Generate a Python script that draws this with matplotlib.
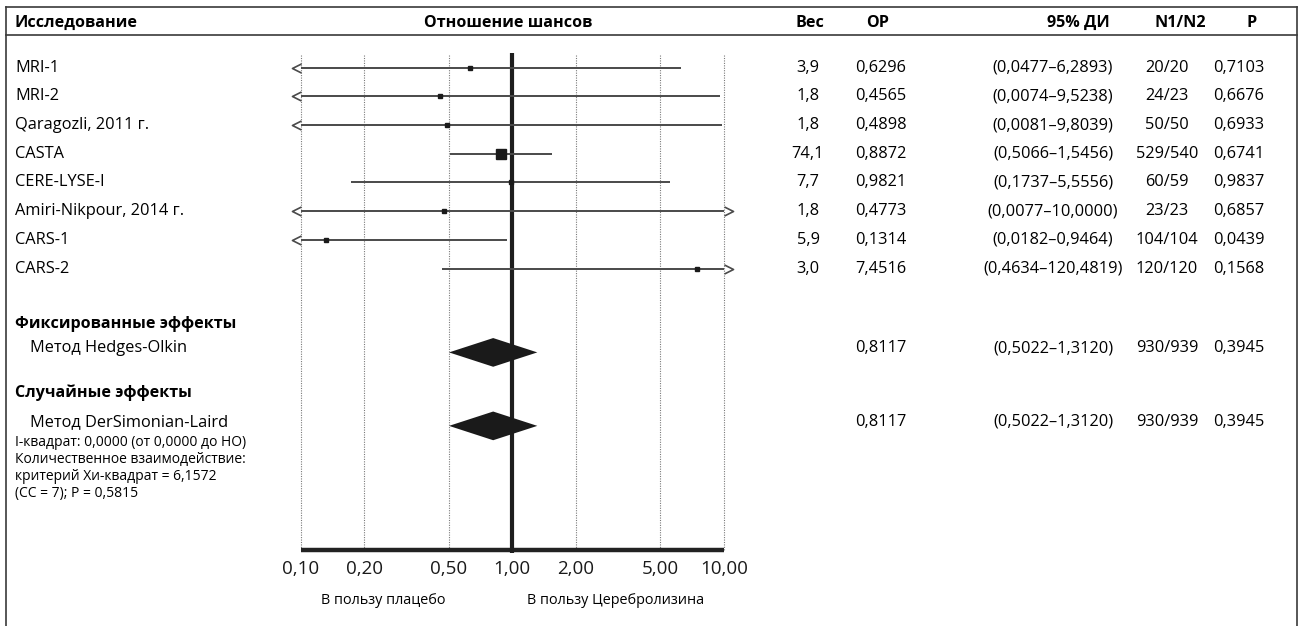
import matplotlib
matplotlib.use('Agg')
import matplotlib.pyplot as plt
from matplotlib.path import Path
from matplotlib.patches import Polygon

plt.rcParams['font.family'] = ['Open Sans', 'DejaVu Sans']

# --- data ---
studies = ['MRI-1', 'MRI-2', 'Qaragozli, 2011 г.', 'CASTA', 'CERE-LYSE-I',
           'Amiri-Nikpour, 2014 г.', 'CARS-1', 'CARS-2']
weights = [3.9, 1.8, 1.8, 74.1, 7.7, 1.8, 5.9, 3.0]
odds = [0.6296, 0.4565, 0.4898, 0.8872, 0.9821, 0.4773, 0.1314, 7.4516]
ci_low = [0.0477, 0.0074, 0.0081, 0.5066, 0.1737, 0.0077, 0.0182, 0.4634]
ci_high = [6.2893, 9.5238, 9.8039, 1.5456, 5.5556, 10.0, 0.9464, 120.4819]
n1_n2 = ['20/20', '24/23', '50/50', '529/540', '60/59', '23/23', '104/104', '120/120']
p_vals = [0.7103, 0.6676, 0.6933, 0.6741, 0.9837, 0.6857, 0.0439, 0.1568]

pooled_headers = ['Фиксированные эффекты', 'Случайные эффекты']
pooled_methods = ['Метод Hedges-Olkin', 'Метод DerSimonian-Laird']
pooled_or = [0.8117, 0.8117]
pooled_low = [0.5022, 0.5022]
pooled_high = [1.3120, 1.3120]
pooled_n = ['930/939', '930/939']
pooled_p = [0.3945, 0.3945]

ticks = [0.1, 0.2, 0.5, 1, 2, 5, 10]
stats_lines = ['I-квадрат: 0,0000 (от 0,0000 до НО)',
               'Количественное взаимодействие:',
               'критерий Хи-квадрат = 6,1572',
               '(CC = 7); P = 0,5815']


def comma(v, nd):
    return f"{v:.{nd}f}".replace('.', ',')


W, H = 1301, 626
fig = plt.figure(figsize=(W / 100, H / 100), dpi=100)

ROW0, PITCH = 67.7, 28.7


def row_of(py):
    # pixel row -> row units
    return (py - ROW0) / PITCH


bg = fig.add_axes([0, 0, 1, 1])
bg.set_xlim(0, W)
bg.set_ylim(row_of(H), row_of(0))
bg.axis('off')

x0, x1 = 300.7, 724.0
ax = fig.add_axes([x0 / W, 0, (x1 - x0) / W, 1])
ax.set_xscale('log')
ax.set_xlim(0.1, 10)
ax.set_ylim(row_of(H), row_of(0))
ax.axis('off')
ax.patch.set_alpha(0)

# frame
frame_col = '#3a3a3a'
bg.plot([6, 1297], [row_of(7)] * 2, color=frame_col, lw=1.2)
bg.plot([6, 1297], [row_of(35)] * 2, color=frame_col, lw=1.2)
bg.plot([6, 6], [row_of(7), row_of(H)], color=frame_col, lw=1.2)
bg.plot([1297, 1297], [row_of(7), row_of(H)], color=frame_col, lw=1.2)

# grid and axis
for t in ticks:
    if t != 1:
        ax.plot([t, t], [row_of(55), row_of(550)], color='#7a7a7a', lw=0.8,
                ls=(0, (1, 1.2)), clip_on=False)
    ax.text(t, row_of(569), comma(t, 2), ha='center', va='center', fontsize=13.5,
            color='#1a1a1a')
ax.plot([0.1, 10], [row_of(550)] * 2, color='#222222', lw=3.2,
        solid_capstyle='butt', clip_on=False)
ax.plot([1, 1], [row_of(53), row_of(553)], color='#1e1e1e', lw=3,
        solid_capstyle='butt', clip_on=False)

left_chev = Path([(0, 0.5), (-1, 0), (0, -0.5)], [Path.MOVETO, Path.LINETO, Path.LINETO])
right_chev = Path([(0, 0.5), (1, 0), (0, -0.5)], [Path.MOVETO, Path.LINETO, Path.LINETO])

line_col = '#4a4a4a'
for i, (orr, lo, hi, w) in enumerate(zip(odds, ci_low, ci_high, weights)):
    lo_c = max(lo, 0.1)
    hi_c = min(hi, 10)
    ax.plot([lo_c, hi_c], [i, i], color=line_col, lw=1.4, solid_capstyle='butt',
            clip_on=False)
    if lo < 0.1:
        ax.plot(0.1, i, marker=left_chev, ms=13, mfc='none', mec=line_col, mew=1.2,
                clip_on=False)
    if hi >= 10:
        ax.plot(10, i, marker=right_chev, ms=13, mfc='none', mec=line_col, mew=1.2,
                clip_on=False)
    ms = max(2.8, 7.2 * (w / max(weights)) ** 0.5)
    ax.plot(orr, i, marker='s', ms=ms, color='#1a1a1a', lw=0, clip_on=False)

# pooled diamonds
pooled_rows = [9.78, 12.34]
pooled_head_rows = [8.92, 11.33]
for r, orr, lo, hi in zip(pooled_rows, pooled_or, pooled_low, pooled_high):
    rc = r + 0.14
    h = 0.5
    ax.add_patch(Polygon([(lo, rc), (orr, rc - h), (hi, rc), (orr, rc + h)],
                         closed=True, color='#1a1a1a', lw=0, zorder=3))

# header
fs = 11.8
fsb = 11.6
hy = row_of(23)
bg.text(15, hy, 'Исследование', weight='bold', va='center', fontsize=fsb)
bg.text(508, hy, 'Отношение шансов', weight='bold', va='center', ha='center', fontsize=fsb)
for x, lab in zip([810, 878, 1078, 1180, 1252], ['Вес', 'OP', '95% ДИ', 'N1/N2', 'P']):
    bg.text(x, hy, lab, weight='bold', va='center', ha='center', fontsize=fsb)

col_x = [808, 881, 1053, 1167, 1239]
for i in range(len(studies)):
    bg.text(15, i, studies[i], va='center', fontsize=fs)
    vals = [comma(weights[i], 1), comma(odds[i], 4),
            f"({comma(ci_low[i], 4)}–{comma(ci_high[i], 4)})",
            n1_n2[i], comma(p_vals[i], 4)]
    for x, v in zip(col_x, vals):
        bg.text(x, i, v, va='center', ha='center', fontsize=fs)

for k in range(2):
    bg.text(15, pooled_head_rows[k], pooled_headers[k], weight='bold', va='center',
            fontsize=fsb)
    r = pooled_rows[k]
    bg.text(30, r, pooled_methods[k], va='center', fontsize=fs)
    vals = [comma(pooled_or[k], 4),
            f"({comma(pooled_low[k], 4)}–{comma(pooled_high[k], 4)})",
            pooled_n[k], comma(pooled_p[k], 4)]
    for x, v in zip(col_x[1:], vals):
        bg.text(x, r, v, va='center', ha='center', fontsize=fs)

for j, line in enumerate(stats_lines):
    bg.text(15, row_of(443 + 17 * j), line, va='center', fontsize=10)

bg.text(383, row_of(600), 'В пользу плацебо', ha='center', va='center', fontsize=10.4)
bg.text(616, row_of(600), 'В пользу Церебролизина', ha='center', va='center', fontsize=10.4)

fig.savefig('out.png', dpi=100)
